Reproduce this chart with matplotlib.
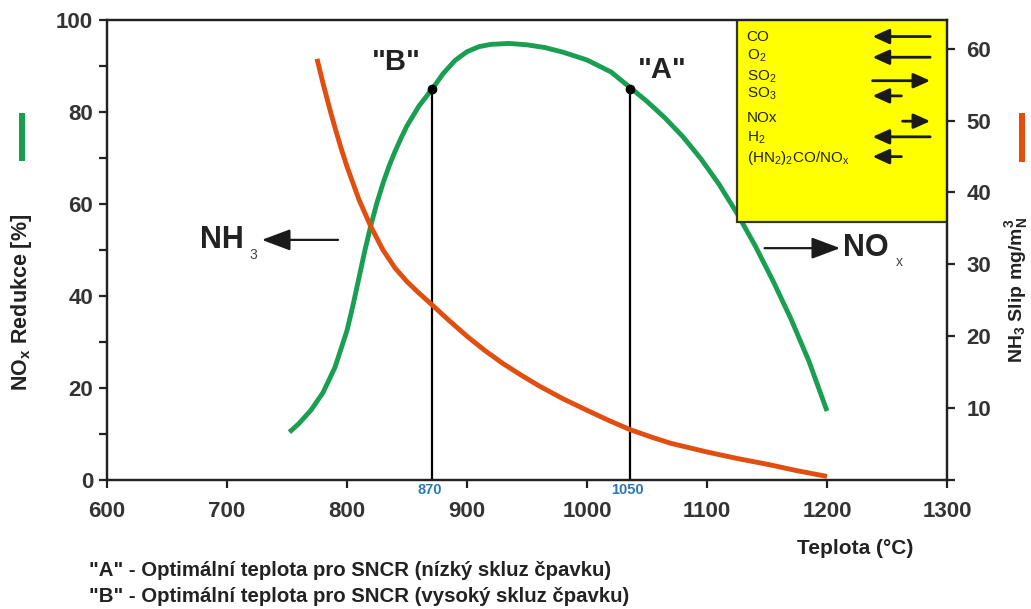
import numpy as np
import matplotlib.pyplot as plt
from matplotlib.patches import Rectangle

plt.rcParams['font.family'] = ['Liberation Sans', 'DejaVu Sans']
plt.rcParams['mathtext.default'] = 'regular'

# NOx reduction curve (left axis, %)
green_t = [752, 760, 770, 780, 790, 800, 805, 810, 815, 820, 825, 830, 835, 840, 845, 850, 860, 871,
           880, 890, 900, 910, 920, 935, 950, 965, 980, 1000, 1020, 1036, 1050, 1065, 1080, 1095,
           1110, 1125, 1140, 1155, 1170, 1185, 1200]
green_nox = [10.4, 12.3, 15.2, 19.0, 24.5, 32.5, 38, 44, 50, 55.5, 60.3, 64.5, 68.2, 71.4, 74.3, 77, 81.3, 85,
             88.3, 91.2, 93.1, 94.2, 94.7, 94.9, 94.6, 94, 93, 91.3, 88.7, 85.3, 82.3, 78.7, 74.6, 69.8,
             64.3, 58, 51, 43.3, 35, 25.8, 15]

# NH3 slip curve (right axis, mg/mN3)
orange_t = [775, 780, 785, 790, 795, 800, 810, 820, 830, 840, 850, 860, 870, 885, 900, 915, 930, 945,
            960, 980, 1000, 1018, 1036, 1055, 1070, 1085, 1100, 1125, 1150, 1175, 1200]
orange_nh3 = [58.6, 55.2, 52, 49, 46.2, 43.6, 39, 35.2, 32, 29.5, 27.6, 26, 24.5, 22.2, 20, 18, 16.2, 14.6,
              13.1, 11.3, 9.7, 8.3, 7.0, 5.9, 5.1, 4.5, 3.9, 3.0, 2.2, 1.3, 0.5]

# optimal temperatures: position on the curve and printed label
point_t = [871, 1036]
point_val = [85, 85]
point_lbl = ['870', '1050']
point_name = ['"B"', '"A"']

xticks = [600, 700, 800, 900, 1000, 1100, 1200, 1300]
left_ticks = [0, 10, 20, 30, 40, 50, 60, 70, 80, 90, 100]
right_ticks = [0, 10, 20, 30, 40, 50, 60]

box_labels = ['CO', 'O$_2$', 'SO$_2$', 'SO$_3$', 'NOx', 'H$_2$', '(HN$_2$)$_2$CO/NO$_x$']
box_text_y = [96.4, 92.2, 87.7, 83.9, 78.8, 74.3, 69.9]
box_arrow_y = [96.4, 91.9, 86.8, 83.5, 78.0, 74.6, 70.3]
box_arrow_from = [1286, 1286, 1238, 1262, 1263, 1286, 1262]
box_arrow_to = [1238, 1238, 1286, 1238, 1286, 1238, 1238]

green = '#1a9e52'
orange = '#e04e10'
dark = '#222222'

fig = plt.figure(figsize=(10.31, 6.09), dpi=100)
ax = fig.add_axes([0.1038, 0.2118, 0.8147, 0.7554])
ax2 = ax.twinx()

ax.plot(green_t, green_nox, color=green, lw=3.5, solid_capstyle='butt', solid_joinstyle='round', zorder=3)
ax2.plot(orange_t, orange_nh3, color=orange, lw=3.5, solid_capstyle='butt', solid_joinstyle='round', zorder=3)

ax.set_xlim(600, 1300)
ax.set_ylim(0, 100)
ax2.set_ylim(0, 64)

ax.set_xticks(xticks)
ax.set_yticks(left_ticks)
ax.set_yticklabels([str(v) if v % 20 == 0 else '' for v in left_ticks])
ax2.set_yticks(right_ticks)
ax2.set_yticklabels([str(v) if v > 0 else '' for v in right_ticks])

for a in (ax, ax2):
    for s in a.spines.values():
        s.set_linewidth(1.6)
        s.set_color(dark)
    a.tick_params(direction='out', length=6, width=1.6, color=dark,
                  labelsize=16, labelcolor='#333333')
ax.tick_params(axis='y', pad=4)
ax.tick_params(axis='x', pad=9)
ax2.tick_params(axis='y', pad=8)
for lab in ax.get_xticklabels() + ax.get_yticklabels() + ax2.get_yticklabels():
    lab.set_fontweight('bold')

# vertical lines and dots at the optimal points
for t, v, lbl in zip(point_t, point_val, point_lbl):
    ax.plot([t, t], [0, v], color='black', lw=1.6, zorder=4)
    ax.plot(t, v, 'o', color='black', ms=6, zorder=5)
    ax.annotate(lbl, xy=(t, 0), xytext=(-2, -7.5), textcoords='offset points',
                ha='center', va='center', fontsize=10.5, fontweight='bold', color='#2a78b8')
ax.text(840.8, 90.9, point_name[0], fontsize=21, fontweight='bold', ha='center', va='center', color=dark)
ax.text(1063, 89.1, point_name[1], fontsize=21, fontweight='bold', ha='center', va='center', color=dark)

# yellow legend box
ax.add_patch(Rectangle((1125, 56.1), 175, 43.9, facecolor='#ffff00', edgecolor='#333333', lw=1.6, zorder=6))
for lbl, ty, ay, x0, x1 in zip(box_labels, box_text_y, box_arrow_y, box_arrow_from, box_arrow_to):
    ax.text(1133, ty, lbl, fontsize=11, ha='left', va='center', color=dark, zorder=7)
    ax.annotate('', xy=(x1, ay), xytext=(x0, ay), zorder=7,
                arrowprops=dict(arrowstyle='-|>,head_length=1.0,head_width=0.45', color='#1a1a1a',
                                lw=2.0, mutation_scale=10, shrinkA=0, shrinkB=0))

# NH3 and NOx direction labels
ax.annotate('', xy=(729, 52.2), xytext=(792.5, 52.2),
            arrowprops=dict(arrowstyle='-|>,head_length=0.8,head_width=0.3', color='#1a1a1a', lw=1.6,
                            mutation_scale=22, shrinkA=0, shrinkB=0))
ax.text(677.5, 52.2, 'NH', fontsize=22, fontweight='bold', ha='left', va='center', color=dark)
ax.text(719, 49, '3', fontsize=10, ha='left', va='center', color='#444444')
ax.annotate('', xy=(1211, 50.4), xytext=(1148, 50.4),
            arrowprops=dict(arrowstyle='-|>,head_length=0.8,head_width=0.3', color='#1a1a1a', lw=1.6,
                            mutation_scale=22, shrinkA=0, shrinkB=0))
ax.text(1213, 50.4, 'NO', fontsize=22, fontweight='bold', ha='left', va='center', color=dark)
ax.text(1257, 47.4, 'x', fontsize=10, ha='left', va='center', color='#444444')

# axis titles
fig.text(0.021, 0.504, 'NO$_x$ Redukce [%]', rotation=90, ha='center', va='center',
         fontsize=15.5, fontweight='bold', color=dark)
fig.text(0.986, 0.524, 'NH$_3$ Slip mg/m$_N^3$', rotation=90, ha='center', va='center',
         fontsize=14, fontweight='bold', color=dark)
fig.text(0.829, 0.100, 'Teplota (°C)', ha='center', va='center', fontsize=15,
         fontweight='bold', color=dark)

# colour keys next to the axes
fig.add_artist(Rectangle((0.018, 0.736), 0.006, 0.078, transform=fig.transFigure,
                         facecolor=green, edgecolor='none'))
fig.add_artist(Rectangle((0.988, 0.734), 0.006, 0.080, transform=fig.transFigure,
                         facecolor=orange, edgecolor='none'))

fig.text(0.086, 0.064, '"A" - Optimální teplota pro SNCR (nízký skluz čpavku)', ha='left', va='center',
         fontsize=14.7, fontweight='bold', color=dark)
fig.text(0.086, 0.021, '"B" - Optimální teplota pro SNCR (vysoký skluz čpavku)', ha='left', va='center',
         fontsize=14.7, fontweight='bold', color=dark)

fig.savefig('out.png', dpi=100)
